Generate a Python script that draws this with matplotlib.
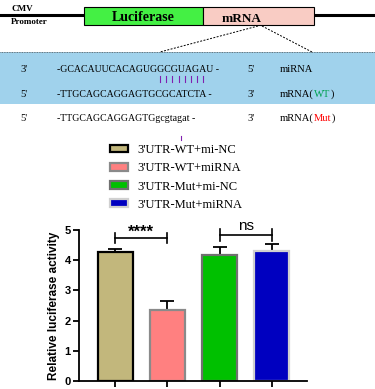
import matplotlib
matplotlib.use("Agg")
import matplotlib.pyplot as plt
from matplotlib.patches import Rectangle

# ---- data ----
groups = ["3'UTR-WT+mi-NC", "3'UTR-WT+miRNA", "3'UTR-Mut+mi-NC", "3'UTR-Mut+miRNA"]
values = [4.27, 2.35, 4.18, 4.29]
errors = [0.10, 0.30, 0.27, 0.24]
yticks = [0, 1, 2, 3, 4, 5]
sig_labels = ["****", "ns"]
seq_mirna = "-GCACAUUCACAGUGGCGUAGAU -"
seq_wt = "-TTGCAGCAGGAGTGCGCATCTA -"
seq_mut = "-TTGCAGCAGGAGTGgcgtagat -"

bar_colors = ["#C2B77C", "#FF8080", "#00C000", "#0000C0"]
edge_colors = ["#000000", "#8a8a8a", "#707070", "#d0d0d0"]

W, H = 375, 389
fig = plt.figure(figsize=(W / 100, H / 100), dpi=100)

# ---- diagram axes in pixel coordinates ----
ax0 = fig.add_axes([0, 0, 1, 1])
ax0.set_xlim(0, W)
ax0.set_ylim(H, 0)
ax0.axis("off")

serif = "Liberation Serif"
ax0.plot([0, 375], [15, 15], color="black", lw=2.2, zorder=1)
ax0.add_patch(Rectangle((84, 7), 119, 18, facecolor="#44F044", edgecolor="black", lw=0.8, zorder=2))
ax0.add_patch(Rectangle((203, 7), 111, 18, facecolor="#F9CCC4", edgecolor="black", lw=0.8, zorder=2))
ax0.text(143, 17, "Luciferase", ha="center", va="center", fontsize=10, fontweight="bold", family=serif)
ax0.text(242, 19, "mRNA", ha="center", va="center", fontsize=9.5, fontweight="bold", family=serif)
ax0.text(11, 9, "CMV", ha="left", va="center", fontsize=6.5, fontweight="bold", family=serif)
ax0.text(11, 22, "Promoter", ha="left", va="center", fontsize=6.5, fontweight="bold", family=serif)
ax0.plot([258, 160], [26, 52], color="black", lw=0.7, ls=(0, (2, 1.5)))
ax0.plot([262, 312], [26, 52], color="black", lw=0.7, ls=(0, (2, 1.5)))

ax0.add_patch(Rectangle((0, 52), 375, 52, facecolor="#A0D2EC", edgecolor="none", zorder=0))
ax0.plot([0, 375], [52, 52], color="#555555", lw=0.6, ls=(0, (1, 1)))

fs = 7.1
rows = [(69, "3'", seq_mirna, "5'"), (94, "5'", seq_wt, "3'"), (118, "5'", seq_mut, "3'")]
for y, a, s, b in rows:
    ax0.text(20, y, a, ha="left", va="center", fontsize=fs + 0.5, family=serif)
    ax0.text(57, y, s, ha="left", va="center", fontsize=fs, family=serif)
    ax0.text(247, y, b, ha="left", va="center", fontsize=fs + 0.5, family=serif)
ax0.text(280, 69, "miRNA", ha="left", va="center", fontsize=fs + 0.5, family=serif)
for y, tag, col in [(94, "WT", "#00A050"), (118, "Mut", "#FF0000")]:
    t = ax0.text(280, y, "mRNA(", ha="left", va="center", fontsize=fs + 0.5, family=serif)
    t2 = ax0.annotate(tag, xy=(1, 0.5), xycoords=t, ha="left", va="center", fontsize=fs + 0.5,
                      family=serif, color=col)
    ax0.annotate(")", xy=(1, 0.5), xycoords=t2, ha="left", va="center", fontsize=fs + 0.5, family=serif)
for i in range(8):
    x = 160 + i * 6.2
    ax0.plot([x, x], [76, 82], color="#8020B0", lw=0.8)
ax0.plot([181, 181], [136, 140], color="#8020B0", lw=0.8)

# ---- bar chart ----
ax = fig.add_axes([79 / W, 1 - 381 / H, (307 - 79) / W, (381 - 230) / H])
xs = list(range(len(values)))
bars = ax.bar(xs, values, width=0.67, color=bar_colors, edgecolor=edge_colors, linewidth=1.6,
              label=groups, zorder=2)
ax.errorbar(xs, values, yerr=[[0] * 4, errors], fmt="none", ecolor="black", elinewidth=1.3,
            capsize=5, capthick=1.3, zorder=1)
ax.set_xlim(-0.69, 3.67)
ax.set_ylim(0, 5)
ax.set_yticks(yticks)
ax.set_yticklabels([str(t) for t in yticks], fontweight="bold", fontsize=8, family="Liberation Sans")
ax.set_xticks(xs)
ax.set_xticklabels([""] * 4)
ax.tick_params(axis="both", width=1.3, length=4, pad=2)
for sp in ["top", "right"]:
    ax.spines[sp].set_visible(False)
for sp in ["left", "bottom"]:
    ax.spines[sp].set_linewidth(1.3)
ax.set_ylabel("Relative luciferase activity", fontweight="bold", fontsize=8.5,
              family="Liberation Sans", labelpad=3)

# significance brackets
def bracket(x1, x2, y, h, label, ly, fsz, fw):
    ax.plot([x1, x2], [y, y], color="black", lw=1.2, clip_on=False)
    for x in (x1, x2):
        ax.plot([x, x], [y - h, y + h], color="black", lw=1.2, clip_on=False)
    ax.text((x1 + x2) / 2, ly, label, ha="center", va="center", fontsize=fsz, fontweight=fw,
            family="Liberation Sans", clip_on=False)

bracket(0, 1, 4.74, 0.17, sig_labels[0], 4.93, 12, "bold")
bracket(2, 3, 4.84, 0.2, sig_labels[1], 5.12, 11, "normal")

# legend
leg = fig.legend(handles=bars, labels=groups, loc="upper left",
                 bbox_to_anchor=(110 / W, 1 - 144 / H), frameon=False,
                 prop={"family": serif, "size": 9},
                 handlelength=1.42, handleheight=0.58, handletextpad=0.75,
                 labelspacing=0.5, borderpad=0, borderaxespad=0)

fig.savefig("out.png", dpi=100)
